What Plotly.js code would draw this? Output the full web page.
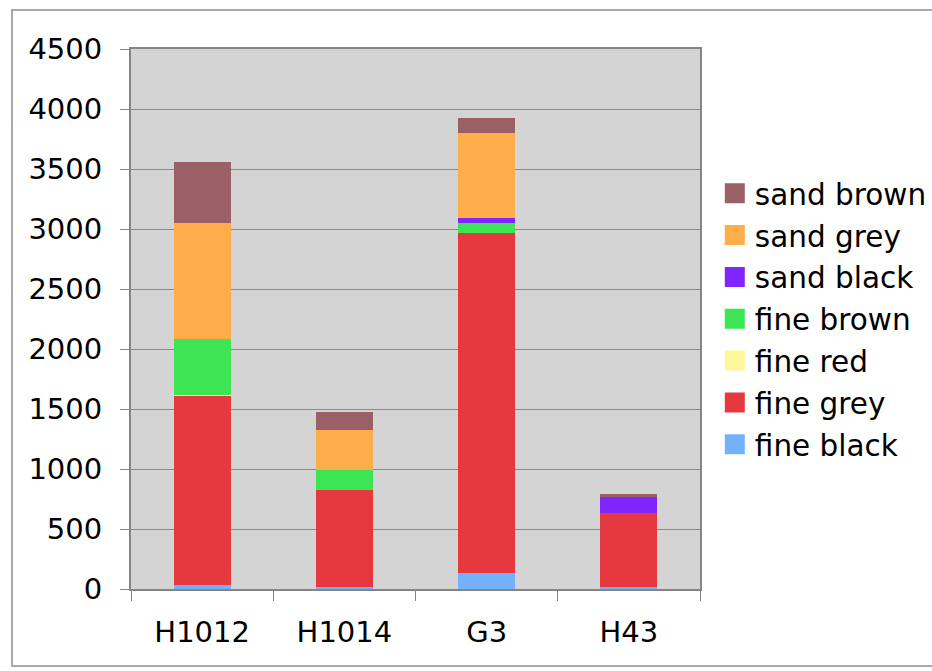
<!DOCTYPE html>
<html>
<head>
<meta charset="utf-8">
<script src="https://cdn.plot.ly/plotly-3.0.1.min.js"></script>
<style>
  html, body { margin: 0; padding: 0; background: #ffffff; }
  #frame { position: absolute; left: 11px; top: 9px; width: 940px; height: 658px; border: 2px solid #a8a8a8; border-right: none; box-sizing: border-box; }
  #chart { position: absolute; left: 0; top: 0; width: 932px; height: 671px; }
</style>
</head>
<body>
<div id="frame"></div>
<div id="chart"></div>
<script>
const categories = ["H1012", "H1014", "G3", "H43"];
const fineBlack  = [30, 20, 136, 15];
const fineGrey   = [1575, 805, 2828, 616];
const fineRed    = [15, 0, 0, 0];
const fineBrown  = [463, 167, 89, 0];
const sandBlack  = [0, 0, 41, 133];
const sandGrey   = [967, 333, 703, 0];
const sandBrown  = [508, 153, 125, 28];
const yTicks = [0, 500, 1000, 1500, 2000, 2500, 3000, 3500, 4000, 4500];

const series = [
  {name: "fine black", y: fineBlack, color: "#73b1ff"},
  {name: "fine grey",  y: fineGrey,  color: "#e5393f"},
  {name: "fine red",   y: fineRed,   color: "#fff799"},
  {name: "fine brown", y: fineBrown, color: "#3de454"},
  {name: "sand black", y: sandBlack, color: "#7f26ff"},
  {name: "sand grey",  y: sandGrey,  color: "#ffad4a"},
  {name: "sand brown", y: sandBrown, color: "#9b6065"}
];

const barTraces = series.map(s => ({
  type: "bar",
  x: categories,
  y: s.y,
  name: s.name,
  legendgroup: s.name,
  showlegend: false,
  marker: {color: s.color, line: {width: 0}},
  width: 0.4
}));

// legend entries (larger square swatches), linked to the bar traces; top of stack listed first
const legendTraces = series.slice().reverse().map(s => ({
  type: "scatter",
  mode: "markers",
  x: [null],
  y: [null],
  name: s.name,
  legendgroup: s.name,
  showlegend: true,
  marker: {color: s.color, symbol: "square", size: 16, line: {color: s.color, width: 4}}
}));

const fam = "DejaVu Sans, Verdana, sans-serif";

const layout = {
  width: 932, height: 671,
  margin: {l: 131, r: 232, t: 49, b: 82, pad: 0, autoexpand: false},
  paper_bgcolor: "rgba(0,0,0,0)",
  plot_bgcolor: "#d4d4d4",
  barmode: "stack",
  font: {family: fam, size: 29, color: "#000"},
  showlegend: true,
  legend: {
    traceorder: "grouped",
    x: 1.026, xanchor: "left",
    y: 0.5, yanchor: "middle",
    font: {family: fam, size: 29.5, color: "#000"},
    bgcolor: "rgba(0,0,0,0)",
    itemwidth: 30,
    tracegroupgap: 0.5
  },
  xaxis: {
    type: "category",
    categoryorder: "array",
    categoryarray: categories,
    showline: true, linecolor: "#858585", linewidth: 2, mirror: true,
    ticks: "outside", tickson: "boundaries", ticklen: 10, tickcolor: "#858585", tickwidth: 1,
    tickfont: {family: fam, size: 29, color: "#000"},
    ticklabelstandoff: 16,
    showgrid: false, zeroline: false,
    fixedrange: true
  },
  yaxis: {
    range: [0, 4500],
    tickvals: yTicks,
    ticktext: yTicks.map(String),
    showline: true, linecolor: "#858585", linewidth: 2, mirror: true,
    ticks: "outside", ticklen: 9, tickcolor: "#858585", tickwidth: 1,
    tickfont: {family: fam, size: 29, color: "#000"},
    ticklabelstandoff: 12,
    showgrid: true, gridcolor: "#8a8a8a", gridwidth: 1,
    zeroline: false,
    fixedrange: true
  }
};

Plotly.newPlot("chart", legendTraces.concat(barTraces), layout, {displayModeBar: false, staticPlot: true});
</script>
</body>
</html>
